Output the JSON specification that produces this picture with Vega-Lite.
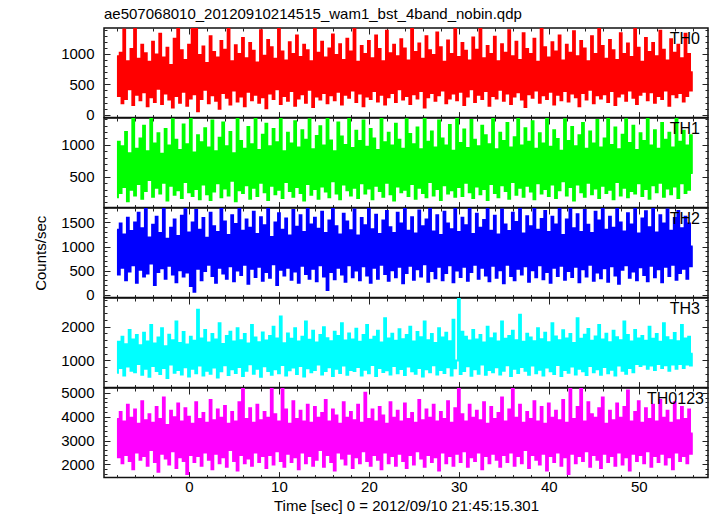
{
"$schema": "https://vega.github.io/schema/vega-lite/v6.json",
"background": "white",
"padding": {"left": 32, "top": 5, "right": 5, "bottom": 0},
"spacing": 0,
"bounds": "flush",
"config": {
  "font": "Liberation Sans",
  "concat": {"spacing": 0},
  "view": {"stroke": "#111", "strokeWidth": 1.5},
  "axis": {"labelFont": "Liberation Sans", "titleFont": "Liberation Sans", "labelFontSize": 15, "titleFontSize": 15, "titleFontWeight": "normal", "labelColor": "#000", "titleColor": "#000", "tickColor": "#222", "tickWidth": 1, "domain": false, "grid": false, "labelFlush": false, "labelOverlap": false, "format": "d"},
  "title": {"font": "Liberation Sans", "fontSize": 15, "fontWeight": "normal", "color": "#000", "anchor": "start"}
},
"datasets": {"lc": [
{"t":-8.0,"a":960,"b":180,"c":1350,"d":640,"e":3900},
{"t":-7.8,"a":310,"b":1050,"c":420,"d":1550,"e":2300},
{"t":-7.6,"a":1020,"b":250,"c":1480,"d":780,"e":4200},
{"t":-7.4,"a":190,"b":980,"c":560,"d":1700,"e":2050},
{"t":-7.2,"a":1400,"b":340,"c":1250,"d":560,"e":3800},
{"t":-7.0,"a":260,"b":1200,"c":300,"d":1480,"e":2400},
{"t":-6.8,"a":880,"b":120,"c":1600,"d":820,"e":4500},
{"t":-6.6,"a":420,"b":870,"c":480,"d":1900,"e":2150},
{"t":-6.4,"a":1080,"b":300,"c":1320,"d":700,"e":3950},
{"t":-6.2,"a":160,"b":1420,"c":610,"d":1620,"e":1800},
{"t":-6.0,"a":1430,"b":210,"c":1500,"d":650,"e":4300},
{"t":-5.8,"a":330,"b":940,"c":250,"d":1750,"e":2500},
{"t":-5.6,"a":920,"b":390,"c":1700,"d":900,"e":3700},
{"t":-5.4,"a":240,"b":1100,"c":520,"d":1450,"e":2200},
{"t":-5.2,"a":1150,"b":160,"c":1380,"d":580,"e":4650},
{"t":-5.0,"a":370,"b":1300,"c":380,"d":1820,"e":2350},
{"t":-4.8,"a":1010,"b":280,"c":1820,"d":760,"e":3850},
{"t":-4.6,"a":140,"b":900,"c":440,"d":1560,"e":1950},
{"t":-4.4,"a":870,"b":450,"c":1190,"d":520,"e":4100},
{"t":-4.2,"a":290,"b":1430,"c":650,"d":2050,"e":2600},
{"t":-4.0,"a":1200,"b":190,"c":1450,"d":840,"e":3750},
{"t":-3.8,"a":210,"b":1020,"c":200,"d":1500,"e":2100},
{"t":-3.6,"a":990,"b":330,"c":1620,"d":690,"e":4400},
{"t":-3.4,"a":430,"b":1180,"c":470,"d":1680,"e":1700},
{"t":-3.2,"a":1330,"b":240,"c":1280,"d":600,"e":3900},
{"t":-3.0,"a":180,"b":860,"c":550,"d":1950,"e":2450},
{"t":-2.8,"a":940,"b":410,"c":1810,"d":780,"e":4800},
{"t":-2.6,"a":350,"b":1250,"c":330,"d":1420,"e":2250},
{"t":-2.4,"a":1100,"b":130,"c":1160,"d":480,"e":3650},
{"t":-2.2,"a":250,"b":990,"c":600,"d":1760,"e":2000},
{"t":-2.0,"a":820,"b":360,"c":1390,"d":880,"e":4250},
{"t":-1.8,"a":120,"b":1400,"c":420,"d":1600,"e":2550},
{"t":-1.6,"a":1250,"b":220,"c":1560,"d":640,"e":3980},
{"t":-1.4,"a":310,"b":1080,"c":260,"d":2150,"e":1850},
{"t":-1.2,"a":1420,"b":290,"c":1220,"d":720,"e":4550},
{"t":-1.0,"a":200,"b":920,"c":510,"d":1520,"e":2300},
{"t":-0.8,"a":1060,"b":170,"c":1640,"d":590,"e":3800},
{"t":-0.6,"a":380,"b":1320,"c":380,"d":1840,"e":2150},
{"t":-0.4,"a":900,"b":420,"c":1830,"d":800,"e":4350},
{"t":-0.2,"a":150,"b":1010,"c":460,"d":1470,"e":1600},
{"t":0.0,"a":1150,"b":260,"c":1290,"d":530,"e":4000},
{"t":0.2,"a":270,"b":1430,"c":180,"d":1700,"e":2400},
{"t":0.4,"a":1440,"b":200,"c":1500,"d":760,"e":3700},
{"t":0.6,"a":340,"b":880,"c":60,"d":1580,"e":2100},
{"t":0.8,"a":1430,"b":310,"c":1760,"d":620,"e":4600},
{"t":1.0,"a":60,"b":1150,"c":540,"d":2500,"e":2350},
{"t":1.2,"a":980,"b":150,"c":1350,"d":850,"e":3900},
{"t":1.4,"a":260,"b":1040,"c":300,"d":1650,"e":1950},
{"t":1.6,"a":1120,"b":380,"c":1590,"d":560,"e":4150},
{"t":1.8,"a":410,"b":1260,"c":490,"d":1900,"e":2500},
{"t":2.0,"a":850,"b":230,"c":1180,"d":700,"e":3750},
{"t":2.2,"a":190,"b":960,"c":620,"d":1530,"e":2200},
{"t":2.4,"a":1290,"b":140,"c":1700,"d":610,"e":4700},
{"t":2.6,"a":320,"b":1380,"c":390,"d":1780,"e":1800},
{"t":2.8,"a":1030,"b":270,"c":1420,"d":790,"e":3850},
{"t":3.0,"a":230,"b":900,"c":250,"d":1620,"e":2450},
{"t":3.2,"a":940,"b":400,"c":1300,"d":500,"e":4300},
{"t":3.4,"a":100,"b":1110,"c":560,"d":2100,"e":2050},
{"t":3.6,"a":1210,"b":180,"c":1800,"d":680,"e":3950},
{"t":3.8,"a":360,"b":1350,"c":440,"d":1490,"e":2300},
{"t":4.0,"a":1070,"b":320,"c":1520,"d":860,"e":4450},
{"t":4.2,"a":280,"b":980,"c":330,"d":1720,"e":1900},
{"t":4.4,"a":1430,"b":210,"c":1240,"d":570,"e":3700},
{"t":4.6,"a":170,"b":1200,"c":590,"d":1850,"e":2600},
{"t":4.8,"a":880,"b":440,"c":1650,"d":740,"e":4200},
{"t":5.0,"a":400,"b":870,"c":280,"d":1560,"e":2150},
{"t":5.2,"a":1140,"b":120,"c":1470,"d":630,"e":3800},
{"t":5.4,"a":220,"b":1420,"c":500,"d":1950,"e":1750},
{"t":5.6,"a":1000,"b":290,"c":1830,"d":810,"e":4600},
{"t":5.8,"a":300,"b":1060,"c":410,"d":1600,"e":2400},
{"t":6.0,"a":1260,"b":250,"c":1330,"d":540,"e":5300},
{"t":6.2,"a":140,"b":940,"c":620,"d":1780,"e":2050},
{"t":6.4,"a":930,"b":370,"c":1560,"d":700,"e":3900},
{"t":6.6,"a":380,"b":1280,"c":230,"d":1500,"e":2250},
{"t":6.8,"a":1180,"b":160,"c":1390,"d":890,"e":4350},
{"t":7.0,"a":240,"b":1010,"c":540,"d":2050,"e":1950},
{"t":7.2,"a":1050,"b":330,"c":1720,"d":610,"e":3750},
{"t":7.4,"a":330,"b":1430,"c":370,"d":1680,"e":2500},
{"t":7.6,"a":860,"b":200,"c":1260,"d":760,"e":4500},
{"t":7.8,"a":200,"b":920,"c":580,"d":1540,"e":2100},
{"t":8.0,"a":1390,"b":410,"c":1610,"d":520,"e":3850},
{"t":8.2,"a":290,"b":1160,"c":290,"d":1830,"e":2350},
{"t":8.4,"a":970,"b":260,"c":1440,"d":830,"e":4200},
{"t":8.6,"a":110,"b":1330,"c":470,"d":1590,"e":1850},
{"t":8.8,"a":1230,"b":140,"c":1800,"d":690,"e":3950},
{"t":9.0,"a":350,"b":980,"c":350,"d":1720,"e":2400},
{"t":9.2,"a":1110,"b":360,"c":1200,"d":580,"e":5250},
{"t":9.4,"a":260,"b":1250,"c":630,"d":2000,"e":2000},
{"t":9.6,"a":920,"b":230,"c":1500,"d":740,"e":4100},
{"t":9.8,"a":420,"b":1040,"c":200,"d":1650,"e":2550},
{"t":10.0,"a":1440,"b":300,"c":1690,"d":620,"e":3800},
{"t":10.2,"a":180,"b":1410,"c":520,"d":2300,"e":2150},
{"t":10.4,"a":1040,"b":170,"c":1350,"d":870,"e":5300},
{"t":10.6,"a":310,"b":900,"c":400,"d":1510,"e":1900},
{"t":10.8,"a":890,"b":420,"c":1580,"d":560,"e":4300},
{"t":11.0,"a":230,"b":1190,"c":560,"d":1800,"e":2450},
{"t":11.2,"a":1190,"b":280,"c":1230,"d":710,"e":3700},
{"t":11.4,"a":390,"b":1020,"c":310,"d":1640,"e":2100},
{"t":11.6,"a":1000,"b":190,"c":1760,"d":790,"e":4650},
{"t":11.8,"a":150,"b":1370,"c":480,"d":1950,"e":2300},
{"t":12.0,"a":1300,"b":340,"c":1410,"d":600,"e":3900},
{"t":12.2,"a":270,"b":960,"c":250,"d":1560,"e":1800},
{"t":12.4,"a":950,"b":250,"c":1650,"d":840,"e":4250},
{"t":12.6,"a":340,"b":1230,"c":600,"d":1700,"e":2500},
{"t":12.8,"a":1150,"b":130,"c":1300,"d":530,"e":3800},
{"t":13.0,"a":200,"b":1080,"c":430,"d":2150,"e":2050},
{"t":13.2,"a":1060,"b":390,"c":1830,"d":770,"e":4500},
{"t":13.4,"a":410,"b":1400,"c":330,"d":1610,"e":2350},
{"t":13.6,"a":880,"b":220,"c":1460,"d":650,"e":3750},
{"t":13.8,"a":130,"b":930,"c":540,"d":1880,"e":1950},
{"t":14.0,"a":1430,"b":310,"c":1600,"d":720,"e":4400},
{"t":14.2,"a":300,"b":1140,"c":280,"d":1530,"e":2200},
{"t":14.4,"a":1020,"b":160,"c":1370,"d":880,"e":3950},
{"t":14.6,"a":250,"b":1290,"c":610,"d":1750,"e":2600},
{"t":14.8,"a":1200,"b":350,"c":1720,"d":590,"e":4150},
{"t":15.0,"a":360,"b":990,"c":380,"d":1980,"e":1900},
{"t":15.2,"a":940,"b":270,"c":1280,"d":690,"e":4700},
{"t":15.4,"a":190,"b":1430,"c":100,"d":1660,"e":2400},
{"t":15.6,"a":1090,"b":180,"c":1540,"d":800,"e":3800},
{"t":15.8,"a":320,"b":1070,"c":470,"d":1570,"e":2100},
{"t":16.0,"a":1320,"b":430,"c":1810,"d":540,"e":4300},
{"t":16.2,"a":240,"b":900,"c":320,"d":1850,"e":1750},
{"t":16.4,"a":980,"b":240,"c":1420,"d":760,"e":4050},
{"t":16.6,"a":380,"b":1350,"c":560,"d":1720,"e":2500},
{"t":16.8,"a":1160,"b":150,"c":1250,"d":630,"e":3700},
{"t":17.0,"a":170,"b":1130,"c":420,"d":2100,"e":2250},
{"t":17.2,"a":900,"b":380,"c":1680,"d":850,"e":4600},
{"t":17.4,"a":330,"b":1000,"c":270,"d":1590,"e":2000},
{"t":17.6,"a":1250,"b":290,"c":1520,"d":580,"e":3950},
{"t":17.8,"a":280,"b":1420,"c":610,"d":1800,"e":2450},
{"t":18.0,"a":1040,"b":210,"c":1340,"d":720,"e":4200},
{"t":18.2,"a":400,"b":950,"c":360,"d":1620,"e":1850},
{"t":18.4,"a":1430,"b":330,"c":1770,"d":690,"e":3850},
{"t":18.6,"a":210,"b":1220,"c":500,"d":1940,"e":2300},
{"t":18.8,"a":870,"b":170,"c":1230,"d":810,"e":4500},
{"t":19.0,"a":350,"b":1060,"c":300,"d":1550,"e":2050},
{"t":19.2,"a":1130,"b":400,"c":1590,"d":560,"e":3750},
{"t":19.4,"a":140,"b":1380,"c":590,"d":1750,"e":2550},
{"t":19.6,"a":1000,"b":240,"c":1440,"d":730,"e":5000},
{"t":19.8,"a":300,"b":970,"c":400,"d":2050,"e":2150},
{"t":20.0,"a":1210,"b":320,"c":1800,"d":620,"e":3900},
{"t":20.2,"a":260,"b":1250,"c":250,"d":1610,"e":1950},
{"t":20.4,"a":930,"b":150,"c":1360,"d":870,"e":4300},
{"t":20.6,"a":390,"b":1100,"c":560,"d":1700,"e":2400},
{"t":20.8,"a":1300,"b":360,"c":1660,"d":540,"e":3800},
{"t":21.0,"a":220,"b":920,"c":330,"d":1880,"e":2200},
{"t":21.2,"a":1080,"b":280,"c":1260,"d":780,"e":4400},
{"t":21.4,"a":330,"b":1410,"c":620,"d":1530,"e":1800},
{"t":21.6,"a":880,"b":190,"c":1540,"d":660,"e":4050},
{"t":21.8,"a":170,"b":1040,"c":430,"d":2250,"e":2500},
{"t":22.0,"a":1380,"b":410,"c":1740,"d":710,"e":3700},
{"t":22.2,"a":290,"b":1190,"c":290,"d":1650,"e":2050},
{"t":22.4,"a":1010,"b":230,"c":1400,"d":590,"e":4600},
{"t":22.6,"a":360,"b":990,"c":510,"d":1790,"e":2350},
{"t":22.8,"a":1150,"b":130,"c":1280,"d":840,"e":3950},
{"t":23.0,"a":210,"b":1330,"c":360,"d":1580,"e":1950},
{"t":23.2,"a":960,"b":350,"c":1700,"d":620,"e":4250},
{"t":23.4,"a":420,"b":1080,"c":580,"d":1920,"e":2450},
{"t":23.6,"a":1240,"b":260,"c":1480,"d":750,"e":3800},
{"t":23.8,"a":250,"b":940,"c":240,"d":1630,"e":2150},
{"t":24.0,"a":1090,"b":300,"c":1830,"d":570,"e":4550},
{"t":24.2,"a":310,"b":1400,"c":450,"d":1750,"e":1850},
{"t":24.4,"a":890,"b":200,"c":1330,"d":820,"e":3900},
{"t":24.6,"a":180,"b":1170,"c":600,"d":2000,"e":2400},
{"t":24.8,"a":1420,"b":390,"c":1610,"d":680,"e":4150},
{"t":25.0,"a":340,"b":1010,"c":310,"d":1560,"e":2000},
{"t":25.2,"a":1030,"b":160,"c":1270,"d":610,"e":3750},
{"t":25.4,"a":270,"b":1270,"c":530,"d":1840,"e":2550},
{"t":25.6,"a":1170,"b":330,"c":1750,"d":780,"e":4700},
{"t":25.8,"a":390,"b":930,"c":380,"d":1690,"e":2250},
{"t":26.0,"a":920,"b":250,"c":1420,"d":530,"e":3850},
{"t":26.2,"a":120,"b":1420,"c":630,"d":2150,"e":1900},
{"t":26.4,"a":1290,"b":180,"c":1560,"d":740,"e":4300},
{"t":26.6,"a":290,"b":1050,"c":270,"d":1600,"e":2400},
{"t":26.8,"a":1060,"b":420,"c":1800,"d":650,"e":3950},
{"t":27.0,"a":360,"b":1210,"c":490,"d":1780,"e":2100},
{"t":27.2,"a":980,"b":210,"c":1310,"d":860,"e":4500},
{"t":27.4,"a":230,"b":960,"c":340,"d":1520,"e":2300},
{"t":27.6,"a":1350,"b":310,"c":1650,"d":590,"e":3800},
{"t":27.8,"a":320,"b":1380,"c":580,"d":1950,"e":1750},
{"t":28.0,"a":1110,"b":140,"c":1240,"d":720,"e":4200},
{"t":28.2,"a":400,"b":1100,"c":300,"d":1680,"e":2500},
{"t":28.4,"a":870,"b":370,"c":1720,"d":630,"e":3900},
{"t":28.6,"a":190,"b":990,"c":450,"d":1820,"e":2050},
{"t":28.8,"a":1220,"b":240,"c":1480,"d":800,"e":4650},
{"t":29.0,"a":270,"b":1310,"c":610,"d":1570,"e":2350},
{"t":29.2,"a":1000,"b":290,"c":1360,"d":560,"e":3750},
{"t":29.4,"a":350,"b":910,"c":260,"d":2200,"e":1950},
{"t":29.6,"a":1430,"b":190,"c":1790,"d":770,"e":4350},
{"t":29.8,"a":240,"b":1430,"c":500,"d":1000,"e":2450},
{"t":30.0,"a":950,"b":340,"c":1300,"d":2900,"e":5300},
{"t":30.2,"a":380,"b":1030,"c":370,"d":600,"e":2100},
{"t":30.4,"a":1180,"b":200,"c":1600,"d":1850,"e":4100},
{"t":30.6,"a":160,"b":1240,"c":580,"d":690,"e":2550},
{"t":30.8,"a":1050,"b":410,"c":1440,"d":1700,"e":3800},
{"t":31.0,"a":300,"b":950,"c":290,"d":830,"e":1900},
{"t":31.2,"a":890,"b":260,"c":1830,"d":1590,"e":4500},
{"t":31.4,"a":420,"b":1390,"c":470,"d":550,"e":2300},
{"t":31.6,"a":1270,"b":170,"c":1260,"d":1900,"e":3950},
{"t":31.8,"a":210,"b":1080,"c":620,"d":740,"e":2150},
{"t":32.0,"a":1070,"b":350,"c":1680,"d":1620,"e":4250},
{"t":32.2,"a":330,"b":980,"c":330,"d":610,"e":2500},
{"t":32.4,"a":1410,"b":230,"c":1390,"d":1750,"e":3850},
{"t":32.6,"a":260,"b":1300,"c":560,"d":880,"e":1800},
{"t":32.8,"a":930,"b":310,"c":1550,"d":1530,"e":4600},
{"t":33.0,"a":390,"b":1150,"c":400,"d":580,"e":2350},
{"t":33.2,"a":1130,"b":140,"c":1810,"d":2000,"e":3700},
{"t":33.4,"a":150,"b":1010,"c":280,"d":720,"e":2050},
{"t":33.6,"a":1000,"b":390,"c":1330,"d":1660,"e":4400},
{"t":33.8,"a":310,"b":1420,"c":600,"d":650,"e":2450},
{"t":34.0,"a":1280,"b":250,"c":1640,"d":1800,"e":3900},
{"t":34.2,"a":270,"b":930,"c":350,"d":800,"e":2200},
{"t":34.4,"a":880,"b":180,"c":1250,"d":1560,"e":4150},
{"t":34.6,"a":410,"b":1190,"c":510,"d":590,"e":1900},
{"t":34.8,"a":1160,"b":370,"c":1770,"d":2150,"e":4800},
{"t":35.0,"a":230,"b":1060,"c":240,"d":700,"e":2400},
{"t":35.2,"a":1020,"b":280,"c":1460,"d":1640,"e":3800},
{"t":35.4,"a":350,"b":1340,"c":620,"d":860,"e":2100},
{"t":35.6,"a":1390,"b":160,"c":1320,"d":1720,"e":4300},
{"t":35.8,"a":180,"b":960,"c":390,"d":540,"e":2500},
{"t":36.0,"a":960,"b":420,"c":1700,"d":1880,"e":5250},
{"t":36.2,"a":300,"b":1120,"c":300,"d":760,"e":1950},
{"t":36.4,"a":1200,"b":220,"c":1510,"d":1600,"e":3950},
{"t":36.6,"a":370,"b":1410,"c":540,"d":630,"e":2350},
{"t":36.8,"a":900,"b":330,"c":1800,"d":2350,"e":4500},
{"t":37.0,"a":250,"b":990,"c":420,"d":810,"e":2050},
{"t":37.2,"a":1340,"b":190,"c":1270,"d":1550,"e":3750},
{"t":37.4,"a":130,"b":1260,"c":590,"d":700,"e":2600},
{"t":37.6,"a":1080,"b":360,"c":1630,"d":1790,"e":4200},
{"t":37.8,"a":340,"b":1050,"c":270,"d":580,"e":1850},
{"t":38.0,"a":1000,"b":270,"c":1420,"d":1680,"e":3900},
{"t":38.2,"a":280,"b":1370,"c":510,"d":850,"e":2400},
{"t":38.4,"a":1250,"b":150,"c":1820,"d":1570,"e":4650},
{"t":38.6,"a":400,"b":940,"c":360,"d":620,"e":2200},
{"t":38.8,"a":870,"b":400,"c":1350,"d":1950,"e":3800},
{"t":39.0,"a":200,"b":1180,"c":610,"d":730,"e":2000},
{"t":39.2,"a":1430,"b":240,"c":1570,"d":1630,"e":4400},
{"t":39.4,"a":320,"b":1020,"c":320,"d":560,"e":2450},
{"t":39.6,"a":1110,"b":310,"c":1740,"d":1820,"e":3700},
{"t":39.8,"a":260,"b":1430,"c":470,"d":790,"e":1750},
{"t":40.0,"a":940,"b":200,"c":1300,"d":1540,"e":4550},
{"t":40.2,"a":380,"b":970,"c":250,"d":680,"e":2350},
{"t":40.4,"a":1190,"b":380,"c":1620,"d":2100,"e":3950},
{"t":40.6,"a":170,"b":1230,"c":560,"d":600,"e":2100},
{"t":40.8,"a":1040,"b":170,"c":1460,"d":1710,"e":4250},
{"t":41.0,"a":330,"b":1090,"c":390,"d":870,"e":2500},
{"t":41.2,"a":1300,"b":290,"c":1790,"d":1600,"e":3850},
{"t":41.4,"a":240,"b":910,"c":600,"d":540,"e":1950},
{"t":41.6,"a":890,"b":430,"c":1240,"d":1890,"e":4700},
{"t":41.8,"a":390,"b":1400,"c":310,"d":720,"e":2300},
{"t":42.0,"a":1150,"b":210,"c":1560,"d":1650,"e":3750},
{"t":42.2,"a":220,"b":1060,"c":490,"d":640,"e":1600},
{"t":42.4,"a":1020,"b":340,"c":1830,"d":1780,"e":5200},
{"t":42.6,"a":350,"b":1280,"c":370,"d":820,"e":2450},
{"t":42.8,"a":1370,"b":130,"c":1380,"d":1520,"e":3900},
{"t":43.0,"a":290,"b":980,"c":580,"d":590,"e":2050},
{"t":43.2,"a":960,"b":380,"c":1670,"d":2250,"e":4400},
{"t":43.4,"a":140,"b":1150,"c":260,"d":760,"e":2350},
{"t":43.6,"a":1210,"b":260,"c":1300,"d":1640,"e":5300},
{"t":43.8,"a":360,"b":1340,"c":530,"d":680,"e":2150},
{"t":44.0,"a":1090,"b":190,"c":1760,"d":1760,"e":3800},
{"t":44.2,"a":250,"b":940,"c":380,"d":570,"e":2550},
{"t":44.4,"a":880,"b":410,"c":1450,"d":1930,"e":4600},
{"t":44.6,"a":410,"b":1210,"c":620,"d":840,"e":1900},
{"t":44.8,"a":1290,"b":230,"c":1280,"d":1580,"e":4100},
{"t":45.0,"a":190,"b":1020,"c":290,"d":650,"e":2400},
{"t":45.2,"a":1000,"b":320,"c":1720,"d":1710,"e":3950},
{"t":45.4,"a":320,"b":1390,"c":460,"d":740,"e":2200},
{"t":45.6,"a":1430,"b":170,"c":1540,"d":2050,"e":4350},
{"t":45.8,"a":270,"b":960,"c":340,"d":580,"e":1850},
{"t":46.0,"a":1130,"b":360,"c":1800,"d":1620,"e":4800},
{"t":46.2,"a":340,"b":1100,"c":550,"d":810,"e":2450},
{"t":46.4,"a":920,"b":250,"c":1350,"d":1790,"e":3700},
{"t":46.6,"a":210,"b":1420,"c":270,"d":620,"e":2100},
{"t":46.8,"a":1230,"b":300,"c":1620,"d":1540,"e":4250},
{"t":47.0,"a":390,"b":1000,"c":590,"d":730,"e":2350},
{"t":47.2,"a":1060,"b":150,"c":1390,"d":1880,"e":3850},
{"t":47.4,"a":160,"b":1270,"c":400,"d":560,"e":1950},
{"t":47.6,"a":900,"b":420,"c":1780,"d":1690,"e":4550},
{"t":47.8,"a":300,"b":930,"c":230,"d":850,"e":2500},
{"t":48.0,"a":1340,"b":210,"c":1500,"d":1600,"e":3950},
{"t":48.2,"a":350,"b":1160,"c":520,"d":700,"e":2000},
{"t":48.4,"a":1000,"b":330,"c":1310,"d":2150,"e":4400},
{"t":48.6,"a":230,"b":1400,"c":610,"d":610,"e":2300},
{"t":48.8,"a":1170,"b":180,"c":1690,"d":1750,"e":5100},
{"t":49.0,"a":400,"b":1030,"c":350,"d":780,"e":1750},
{"t":49.2,"a":950,"b":280,"c":1460,"d":1560,"e":3800},
{"t":49.4,"a":280,"b":1300,"c":480,"d":650,"e":2450},
{"t":49.6,"a":1420,"b":240,"c":1810,"d":1900,"e":4200},
{"t":49.8,"a":180,"b":920,"c":300,"d":900,"e":2150},
{"t":50.0,"a":1100,"b":400,"c":1270,"d":1650,"e":4650},
{"t":50.2,"a":330,"b":1180,"c":570,"d":840,"e":2400},
{"t":50.4,"a":870,"b":200,"c":1580,"d":1720,"e":3750},
{"t":50.6,"a":380,"b":1060,"c":410,"d":880,"e":2050},
{"t":50.8,"a":1260,"b":310,"c":1730,"d":1580,"e":4350},
{"t":51.0,"a":240,"b":1420,"c":280,"d":760,"e":2550},
{"t":51.2,"a":1030,"b":160,"c":1400,"d":2000,"e":3900},
{"t":51.4,"a":370,"b":990,"c":600,"d":850,"e":1900},
{"t":51.6,"a":1180,"b":370,"c":1820,"d":1640,"e":4500},
{"t":51.8,"a":200,"b":1230,"c":360,"d":720,"e":2350},
{"t":52.0,"a":960,"b":260,"c":1290,"d":1780,"e":3800},
{"t":52.2,"a":310,"b":940,"c":530,"d":900,"e":2100},
{"t":52.4,"a":1380,"b":410,"c":1650,"d":1550,"e":4700},
{"t":52.6,"a":260,"b":1340,"c":260,"d":780,"e":2450},
{"t":52.8,"a":1070,"b":190,"c":1480,"d":2100,"e":3950},
{"t":53.0,"a":400,"b":1080,"c":580,"d":860,"e":2000},
{"t":53.2,"a":890,"b":320,"c":1770,"d":1690,"e":4250},
{"t":53.4,"a":150,"b":1190,"c":390,"d":700,"e":2300},
{"t":53.6,"a":1240,"b":230,"c":1330,"d":1600,"e":3750},
{"t":53.8,"a":340,"b":960,"c":620,"d":880,"e":1800},
{"t":54.0,"a":1020,"b":350,"c":1590,"d":1810,"e":4600},
{"t":54.2,"a":290,"b":1430,"c":310,"d":760,"e":2500},
{"t":54.4,"a":1150,"b":170,"c":1740,"d":1570,"e":3850},
{"t":54.6,"a":360,"b":1050,"c":450,"d":900,"e":2150},
{"t":54.8,"a":930,"b":400,"c":1380,"d":2050,"e":4400},
{"t":55.0,"a":220,"b":1220,"c":540,"d":780,"e":2350},
{"t":55.2,"a":1330,"b":250,"c":1620,"d":1650,"e":3900},
{"t":55.4,"a":310,"b":990,"c":330,"d":880,"e":2050},
{"t":55.6,"a":1000,"b":300,"c":1480,"d":1700,"e":4300},
{"t":55.8,"a":400,"b":1150,"c":590,"d":850,"e":2450},
{"t":56.0,"a":700,"b":560,"c":1000,"d":1200,"e":3300}
]},
"vconcat": [
{
 "width": 604, "height": 89.6,
 "title": {"text": "ae507068010_20120910214515_wam1_bst_4band_nobin.qdp", "frame": "group", "anchor": "start", "baseline": "alphabetic", "offset": -6},
 "layer": [
  {"data": {"name": "lc"}, "mark": {"type": "line", "interpolate": "step", "color": "#ff0000", "strokeWidth": 2, "clip": true},
   "encoding": {
    "x": {"field": "t", "type": "quantitative", "scale": {"domain": [-9.45, 57.7], "nice": false, "zero": false}, "axis": {"orient": "bottom", "values": [0,10,20,30,40,50], "tickSize": -6, "labels": false, "title": null}},
    "y": {"field": "a", "type": "quantitative", "scale": {"domain": [-45, 1425], "nice": false, "zero": false}, "axis": {"orient": "left", "values": [0,500,1000], "tickSize": -6, "labelPadding": 16, "title": null}}}},
  {"data": {"values": [{}]}, "mark": {"type": "point", "opacity": 0},
   "encoding": {
    "x": {"datum": 0, "type": "quantitative", "scale": {"domain": [-9.45, 57.7], "nice": false, "zero": false}, "axis": {"orient": "bottom", "values": [-8,-6,-4,-2,2,4,6,8,12,14,16,18,22,24,26,28,32,34,36,38,42,44,46,48,52,54,56], "tickSize": -3, "labels": false, "title": null}},
    "y": {"datum": 500, "type": "quantitative", "scale": {"domain": [-45, 1425], "nice": false, "zero": false}, "axis": {"orient": "left", "values": [100,200,300,400,600,700,800,900,1100,1200,1300,1400], "tickSize": -3, "labels": false, "title": null}}}},
  {"data": {"values": [{}]}, "mark": {"type": "point", "opacity": 0},
   "encoding": {
    "x": {"datum": 0, "type": "quantitative", "axis": {"orient": "top", "values": [0,10,20,30,40,50], "tickSize": -6, "labels": false, "title": null}},
    "y": {"datum": 500, "type": "quantitative", "axis": {"orient": "right", "values": [0,500,1000], "tickSize": -6, "labels": false, "title": null}}}},
  {"data": {"values": [{}]}, "mark": {"type": "point", "opacity": 0},
   "encoding": {
    "x": {"datum": 0, "type": "quantitative", "axis": {"orient": "top", "values": [-8,-6,-4,-2,2,4,6,8,12,14,16,18,22,24,26,28,32,34,36,38,42,44,46,48,52,54,56], "tickSize": -3, "labels": false, "title": null}},
    "y": {"datum": 500, "type": "quantitative", "axis": {"orient": "right", "values": [100,200,300,400,600,700,800,900,1100,1200,1300,1400], "tickSize": -3, "labels": false, "title": null}}}},
  {"data": {"values": [{"label": "TH0"}]}, "mark": {"type": "text", "align": "right", "baseline": "top", "dy": 3, "fontSize": 16, "font": "Liberation Sans", "color": "#000"},
   "encoding": {"x": {"datum": 56.8, "type": "quantitative", "axis": null}, "y": {"datum": 1425, "type": "quantitative", "axis": null}, "text": {"field": "label"}}}
 ],
 "resolve": {"axis": {"x": "independent", "y": "independent"}}
},
{
 "width": 604, "height": 89.6,
 "layer": [
  {"data": {"name": "lc"}, "mark": {"type": "line", "interpolate": "step", "color": "#00ff00", "strokeWidth": 2, "clip": true},
   "encoding": {
    "x": {"field": "t", "type": "quantitative", "scale": {"domain": [-9.45, 57.7], "nice": false, "zero": false}, "axis": {"orient": "bottom", "values": [0,10,20,30,40,50], "tickSize": -6, "labels": false, "title": null}},
    "y": {"field": "b", "type": "quantitative", "scale": {"domain": [20, 1420], "nice": false, "zero": false}, "axis": {"orient": "left", "values": [500,1000], "tickSize": -6, "labelPadding": 16, "title": null}}}},
  {"data": {"values": [{}]}, "mark": {"type": "point", "opacity": 0},
   "encoding": {
    "x": {"datum": 0, "type": "quantitative", "scale": {"domain": [-9.45, 57.7], "nice": false, "zero": false}, "axis": {"orient": "bottom", "values": [-8,-6,-4,-2,2,4,6,8,12,14,16,18,22,24,26,28,32,34,36,38,42,44,46,48,52,54,56], "tickSize": -3, "labels": false, "title": null}},
    "y": {"datum": 500, "type": "quantitative", "scale": {"domain": [20, 1420], "nice": false, "zero": false}, "axis": {"orient": "left", "values": [100,200,300,400,600,700,800,900,1100,1200,1300,1400], "tickSize": -3, "labels": false, "title": null}}}},
  {"data": {"values": [{}]}, "mark": {"type": "point", "opacity": 0},
   "encoding": {
    "x": {"datum": 0, "type": "quantitative", "axis": {"orient": "top", "values": [0,10,20,30,40,50], "tickSize": -6, "labels": false, "title": null}},
    "y": {"datum": 500, "type": "quantitative", "axis": {"orient": "right", "values": [500,1000], "tickSize": -6, "labels": false, "title": null}}}},
  {"data": {"values": [{}]}, "mark": {"type": "point", "opacity": 0},
   "encoding": {
    "x": {"datum": 0, "type": "quantitative", "axis": {"orient": "top", "values": [-8,-6,-4,-2,2,4,6,8,12,14,16,18,22,24,26,28,32,34,36,38,42,44,46,48,52,54,56], "tickSize": -3, "labels": false, "title": null}},
    "y": {"datum": 500, "type": "quantitative", "axis": {"orient": "right", "values": [100,200,300,400,600,700,800,900,1100,1200,1300,1400], "tickSize": -3, "labels": false, "title": null}}}},
  {"data": {"values": [{"label": "TH1"}]}, "mark": {"type": "text", "align": "right", "baseline": "top", "dy": 3, "fontSize": 16, "font": "Liberation Sans", "color": "#000"},
   "encoding": {"x": {"datum": 56.8, "type": "quantitative", "axis": null}, "y": {"datum": 1420, "type": "quantitative", "axis": null}, "text": {"field": "label"}}}
 ],
 "resolve": {"axis": {"x": "independent", "y": "independent"}}
},
{
 "width": 604, "height": 89.6,
 "layer": [
  {"data": {"name": "lc"}, "mark": {"type": "line", "interpolate": "step", "color": "#0000ff", "strokeWidth": 2, "clip": true},
   "encoding": {
    "x": {"field": "t", "type": "quantitative", "scale": {"domain": [-9.45, 57.7], "nice": false, "zero": false}, "axis": {"orient": "bottom", "values": [0,10,20,30,40,50], "tickSize": -6, "labels": false, "title": null}},
    "y": {"field": "c", "type": "quantitative", "scale": {"domain": [-60, 1800], "nice": false, "zero": false}, "axis": {"orient": "left", "values": [0,500,1000,1500], "tickSize": -6, "labelPadding": 16, "title": "Counts/sec", "titlePadding": 12}}}},
  {"data": {"values": [{}]}, "mark": {"type": "point", "opacity": 0},
   "encoding": {
    "x": {"datum": 0, "type": "quantitative", "scale": {"domain": [-9.45, 57.7], "nice": false, "zero": false}, "axis": {"orient": "bottom", "values": [-8,-6,-4,-2,2,4,6,8,12,14,16,18,22,24,26,28,32,34,36,38,42,44,46,48,52,54,56], "tickSize": -3, "labels": false, "title": null}},
    "y": {"datum": 500, "type": "quantitative", "scale": {"domain": [-60, 1800], "nice": false, "zero": false}, "axis": {"orient": "left", "values": [100,200,300,400,600,700,800,900,1100,1200,1300,1400,1600,1700,1800], "tickSize": -3, "labels": false, "title": null}}}},
  {"data": {"values": [{}]}, "mark": {"type": "point", "opacity": 0},
   "encoding": {
    "x": {"datum": 0, "type": "quantitative", "axis": {"orient": "top", "values": [0,10,20,30,40,50], "tickSize": -6, "labels": false, "title": null}},
    "y": {"datum": 500, "type": "quantitative", "axis": {"orient": "right", "values": [0,500,1000,1500], "tickSize": -6, "labels": false, "title": null}}}},
  {"data": {"values": [{}]}, "mark": {"type": "point", "opacity": 0},
   "encoding": {
    "x": {"datum": 0, "type": "quantitative", "axis": {"orient": "top", "values": [-8,-6,-4,-2,2,4,6,8,12,14,16,18,22,24,26,28,32,34,36,38,42,44,46,48,52,54,56], "tickSize": -3, "labels": false, "title": null}},
    "y": {"datum": 500, "type": "quantitative", "axis": {"orient": "right", "values": [100,200,300,400,600,700,800,900,1100,1200,1300,1400,1600,1700,1800], "tickSize": -3, "labels": false, "title": null}}}},
  {"data": {"values": [{"label": "TH2"}]}, "mark": {"type": "text", "align": "right", "baseline": "top", "dy": 3, "fontSize": 16, "font": "Liberation Sans", "color": "#000"},
   "encoding": {"x": {"datum": 56.8, "type": "quantitative", "axis": null}, "y": {"datum": 1800, "type": "quantitative", "axis": null}, "text": {"field": "label"}}}
 ],
 "resolve": {"axis": {"x": "independent", "y": "independent"}}
},
{
 "width": 604, "height": 89.6,
 "layer": [
  {"data": {"name": "lc"}, "mark": {"type": "line", "interpolate": "step", "color": "#00ffff", "strokeWidth": 2, "clip": true},
   "encoding": {
    "x": {"field": "t", "type": "quantitative", "scale": {"domain": [-9.45, 57.7], "nice": false, "zero": false}, "axis": {"orient": "bottom", "values": [0,10,20,30,40,50], "tickSize": -6, "labels": false, "title": null}},
    "y": {"field": "d", "type": "quantitative", "scale": {"domain": [200, 2845], "nice": false, "zero": false}, "axis": {"orient": "left", "values": [1000,2000], "tickSize": -6, "labelPadding": 16, "title": null}}}},
  {"data": {"values": [{}]}, "mark": {"type": "point", "opacity": 0},
   "encoding": {
    "x": {"datum": 0, "type": "quantitative", "scale": {"domain": [-9.45, 57.7], "nice": false, "zero": false}, "axis": {"orient": "bottom", "values": [-8,-6,-4,-2,2,4,6,8,12,14,16,18,22,24,26,28,32,34,36,38,42,44,46,48,52,54,56], "tickSize": -3, "labels": false, "title": null}},
    "y": {"datum": 1000, "type": "quantitative", "scale": {"domain": [200, 2845], "nice": false, "zero": false}, "axis": {"orient": "left", "values": [400,600,800,1200,1400,1600,1800,2200,2400,2600,2800], "tickSize": -3, "labels": false, "title": null}}}},
  {"data": {"values": [{}]}, "mark": {"type": "point", "opacity": 0},
   "encoding": {
    "x": {"datum": 0, "type": "quantitative", "axis": {"orient": "top", "values": [0,10,20,30,40,50], "tickSize": -6, "labels": false, "title": null}},
    "y": {"datum": 1000, "type": "quantitative", "axis": {"orient": "right", "values": [1000,2000], "tickSize": -6, "labels": false, "title": null}}}},
  {"data": {"values": [{}]}, "mark": {"type": "point", "opacity": 0},
   "encoding": {
    "x": {"datum": 0, "type": "quantitative", "axis": {"orient": "top", "values": [-8,-6,-4,-2,2,4,6,8,12,14,16,18,22,24,26,28,32,34,36,38,42,44,46,48,52,54,56], "tickSize": -3, "labels": false, "title": null}},
    "y": {"datum": 1000, "type": "quantitative", "axis": {"orient": "right", "values": [400,600,800,1200,1400,1600,1800,2200,2400,2600,2800], "tickSize": -3, "labels": false, "title": null}}}},
  {"data": {"values": [{"label": "TH3"}]}, "mark": {"type": "text", "align": "right", "baseline": "top", "dy": 3, "fontSize": 16, "font": "Liberation Sans", "color": "#000"},
   "encoding": {"x": {"datum": 56.8, "type": "quantitative", "axis": null}, "y": {"datum": 2845, "type": "quantitative", "axis": null}, "text": {"field": "label"}}}
 ],
 "resolve": {"axis": {"x": "independent", "y": "independent"}}
},
{
 "width": 604, "height": 89.6,
 "layer": [
  {"data": {"name": "lc"}, "mark": {"type": "line", "interpolate": "step", "color": "#ff00ff", "strokeWidth": 2, "clip": true},
   "encoding": {
    "x": {"field": "t", "type": "quantitative", "scale": {"domain": [-9.45, 57.7], "nice": false, "zero": false}, "axis": {"orient": "bottom", "values": [0,10,20,30,40,50], "tickSize": -6, "labelPadding": 8, "title": "Time [sec] 0 = 2012/09/10 21:45:15.301", "titlePadding": 4}},
    "y": {"field": "e", "type": "quantitative", "scale": {"domain": [1450, 5200], "nice": false, "zero": false}, "axis": {"orient": "left", "values": [2000,3000,4000,5000], "tickSize": -6, "labelPadding": 16, "title": null}}}},
  {"data": {"values": [{}]}, "mark": {"type": "point", "opacity": 0},
   "encoding": {
    "x": {"datum": 0, "type": "quantitative", "scale": {"domain": [-9.45, 57.7], "nice": false, "zero": false}, "axis": {"orient": "bottom", "values": [-8,-6,-4,-2,2,4,6,8,12,14,16,18,22,24,26,28,32,34,36,38,42,44,46,48,52,54,56], "tickSize": -3, "labels": false, "title": null}},
    "y": {"datum": 3000, "type": "quantitative", "scale": {"domain": [1450, 5200], "nice": false, "zero": false}, "axis": {"orient": "left", "values": [1600,1800,2200,2400,2600,2800,3200,3400,3600,3800,4200,4400,4600,4800,5200], "tickSize": -3, "labels": false, "title": null}}}},
  {"data": {"values": [{}]}, "mark": {"type": "point", "opacity": 0},
   "encoding": {
    "x": {"datum": 0, "type": "quantitative", "axis": {"orient": "top", "values": [0,10,20,30,40,50], "tickSize": -6, "labels": false, "title": null}},
    "y": {"datum": 3000, "type": "quantitative", "axis": {"orient": "right", "values": [2000,3000,4000,5000], "tickSize": -6, "labels": false, "title": null}}}},
  {"data": {"values": [{}]}, "mark": {"type": "point", "opacity": 0},
   "encoding": {
    "x": {"datum": 0, "type": "quantitative", "axis": {"orient": "top", "values": [-8,-6,-4,-2,2,4,6,8,12,14,16,18,22,24,26,28,32,34,36,38,42,44,46,48,52,54,56], "tickSize": -3, "labels": false, "title": null}},
    "y": {"datum": 3000, "type": "quantitative", "axis": {"orient": "right", "values": [1600,1800,2200,2400,2600,2800,3200,3400,3600,3800,4200,4400,4600,4800,5200], "tickSize": -3, "labels": false, "title": null}}}},
  {"data": {"values": [{"label": "TH0123"}]}, "mark": {"type": "text", "align": "right", "baseline": "top", "dy": 3, "fontSize": 16, "font": "Liberation Sans", "color": "#000"},
   "encoding": {"x": {"datum": 57.25, "type": "quantitative", "axis": null}, "y": {"datum": 5200, "type": "quantitative", "axis": null}, "text": {"field": "label"}}}
 ],
 "resolve": {"axis": {"x": "independent", "y": "independent"}}
}
]
}
